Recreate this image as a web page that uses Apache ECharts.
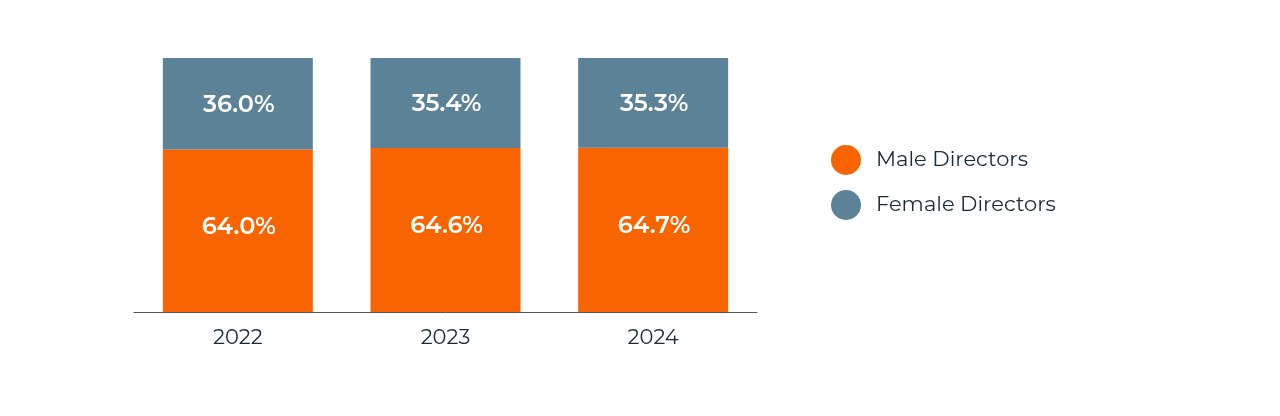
<!DOCTYPE html>
<html><head><meta charset="utf-8">
<script src="https://cdn.jsdelivr.net/npm/echarts@6/dist/echarts.min.js"></script>
<style>html,body{margin:0;padding:0;background:#fff}#c{width:1280px;height:416px}</style>
</head><body><div id="c"></div>
<script>
const categories = ['2022', '2023', '2024'];
const maleValues = [64.0, 64.6, 64.7];
const femaleValues = [36.0, 35.4, 35.3];
const seriesNames = ['Male Directors', 'Female Directors'];

const chart = echarts.init(document.getElementById('c'));
const font = 'Montserrat, "Open Sans", "Noto Sans", sans-serif';
const lbl = (dy) => ({
  show: true, position: 'inside', color: '#ffffff', fontWeight: 600,
  fontSize: 24, fontFamily: font, offset: [1, dy],
  formatter: p => p.value.toFixed(1) + '%'
});
chart.setOption({
  animation: false,
  grid: { left: 134, width: 623, top: 58, height: 254 },
  xAxis: {
    type: 'category', data: categories,
    axisLine: { lineStyle: { color: '#555555', width: 1 } },
    axisTick: { show: false },
    axisLabel: { color: '#1a2a36', fontSize: 21, fontFamily: font, margin: 15 }
  },
  yAxis: { type: 'value', min: 0, max: 100, show: false, splitLine: { show: false } },
  legend: {
    orient: 'vertical', left: 826, top: 140,
    itemWidth: 30, itemHeight: 30, itemGap: 15, icon: 'circle',
    textStyle: { color: '#1a2a36', fontSize: 21, fontFamily: font, padding: [0, 0, 0, 10] },
    data: seriesNames
  },
  series: [
    { name: seriesNames[0], type: 'bar', stack: 'a', data: maleValues, barWidth: 150,
      itemStyle: { color: '#F76400' }, label: lbl(-4) },
    { name: seriesNames[1], type: 'bar', stack: 'a', data: femaleValues, barWidth: 150,
      itemStyle: { color: '#5B8296' }, label: lbl(1) }
  ]
});
</script></body></html>
